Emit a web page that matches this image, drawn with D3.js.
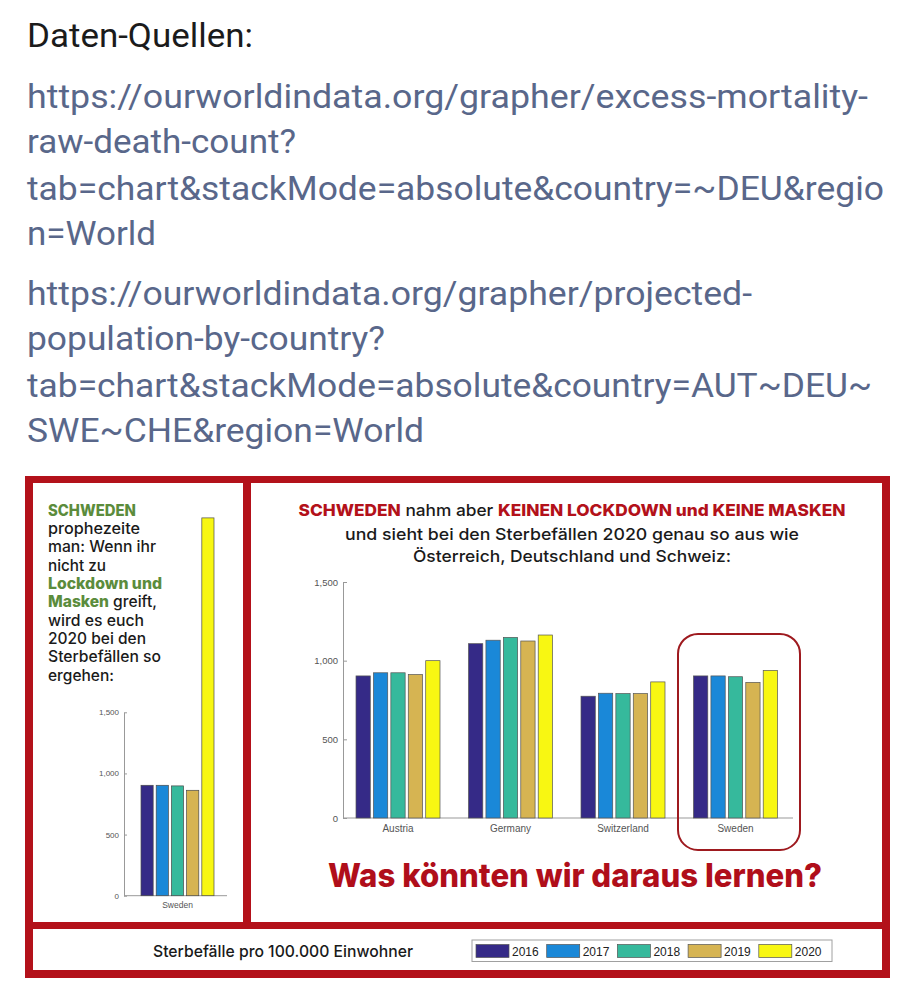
<!DOCTYPE html>
<html>
<head>
<meta charset="utf-8">
<script src="https://cdn.jsdelivr.net/npm/d3@7"></script>
<style>
  html, body { margin: 0; padding: 0; background: #fff; }
  svg { display: block; }
</style>
</head>
<body>
<svg id="chart" width="915" height="1000"></svg>
<script>
// ---------------- DATA ----------------
const countries = ["Austria", "Germany", "Switzerland", "Sweden"];
const years = ["2016", "2017", "2018", "2019", "2020"];
const austria = [903, 923, 923, 912, 1000];
const germany = [1108, 1130, 1148, 1125, 1163];
const switzerland = [774, 793, 791, 791, 865];
const sweden = [903, 903, 898, 862, 938];
const swedenProphecy = [903, 903, 898, 862, 3090];
const yTicks = [0, 500, 1000, 1500];
const yearColors = ["#352a87", "#1a88d8", "#36b99c", "#d6b452", "#f8f712"];

const sourceLines = [
  "https://ourworldindata.org/grapher/excess-mortality-",
  "raw-death-count?",
  "tab=chart&stackMode=absolute&country=~DEU&regio",
  "n=World",
  "https://ourworldindata.org/grapher/projected-",
  "population-by-country?",
  "tab=chart&stackMode=absolute&country=AUT~DEU~",
  "SWE~CHE&region=World"
];
const sourceWidths = [841, 269, 857, 129, 725, 358, 845, 397];
const sourceBaselines = [108, 153, 200, 245, 305, 350, 397, 442];

const seriesByCountry = [austria, germany, switzerland, sweden];
const mainData = countries.map((c, i) => ({country: c, values: years.map((y, j) => ({year: y, value: seriesByCountry[i][j]}))}));
const leftData = [{country: "Sweden", values: years.map((y, j) => ({year: y, value: swedenProphecy[j]}))}];

// ---------------- SETUP ----------------
const svg = d3.select("#chart");
const RED = "#b3111a";
const GREEN = "#5b8c3c";
const color = d3.scaleOrdinal().domain(years).range(yearColors);

// Top source text
svg.append("text")
  .attr("x", 27).attr("y", 47)
  .attr("font-family", "Roboto, sans-serif").attr("font-size", 34)
  .attr("fill", "#1b1b1b")
  .attr("textLength", 226).attr("lengthAdjust", "spacingAndGlyphs")
  .text("Daten-Quellen:");

svg.selectAll("text.src").data(sourceLines).join("text")
  .attr("class", "src")
  .attr("x", 27).attr("y", (d, i) => sourceBaselines[i])
  .attr("font-family", "Roboto, sans-serif").attr("font-size", 34)
  .attr("fill", "#59678a")
  .attr("textLength", (d, i) => sourceWidths[i]).attr("lengthAdjust", "spacingAndGlyphs")
  .text(d => d);

// Frame
svg.append("rect").attr("x", 25).attr("y", 476).attr("width", 865).attr("height", 502).attr("fill", RED);
svg.append("rect").attr("x", 33).attr("y", 483).attr("width", 210).attr("height", 439).attr("fill", "#fff");
svg.append("rect").attr("x", 251).attr("y", 483).attr("width", 631).attr("height", 439).attr("fill", "#fff");
svg.append("rect").attr("x", 33).attr("y", 929).attr("width", 849).attr("height", 41).attr("fill", "#fff");

// ---------------- LEFT PANEL TEXT ----------------
const leftLines = [
  [{t: "SCHWEDEN", g: true}],
  [{t: "prophezeite"}],
  [{t: "man: Wenn ihr"}],
  [{t: "nicht zu"}],
  [{t: "Lockdown und", g: true}],
  [{t: "Masken", g: true}, {t: " greift,"}],
  [{t: "wird es euch"}],
  [{t: "2020 bei den"}],
  [{t: "Sterbefällen so"}],
  [{t: "ergehen:"}]
];
const leftWidths = [88, 92, 108, 58, 114, 109, 96, 98, 113, 66];
leftLines.forEach((line, i) => {
  const t = svg.append("text")
    .attr("x", 48).attr("y", 515.5 + i * 18.35)
    .attr("font-family", "Inter, 'Open Sans', sans-serif").attr("font-size", 15.5)
    .attr("textLength", leftWidths[i]).attr("lengthAdjust", "spacingAndGlyphs");
  line.forEach(seg => {
    t.append("tspan")
      .attr("fill", seg.g ? GREEN : "#1a1a1a")
      .attr("font-weight", seg.g ? 800 : 500)
      .text(seg.t);
  });
});

// ---------------- LEFT CHART ----------------
const ly = d3.scaleLinear().domain([0, 1500]).range([895.7, 712.3]);
const lx = d3.scaleBand().domain(["Sweden"]).range([124, 227]).padding(0);
const lxi = d3.scaleBand().domain(years).range([17, 90]).paddingInner(0.2).paddingOuter(0);

const lAxis = svg.append("g").attr("transform", "translate(124,0)")
  .call(d3.axisLeft(ly).tickValues(yTicks).tickFormat(d3.format(",")).tickSizeInner(-3).tickSizeOuter(0).tickPadding(5));
lAxis.select(".domain").attr("stroke", "#999");
lAxis.selectAll(".tick line").attr("stroke", "#999");
lAxis.selectAll(".tick text").attr("fill", "#555").attr("font-size", 8).attr("font-family", "'Liberation Sans', Arial, sans-serif");
svg.append("line").attr("x1", 124).attr("x2", 227).attr("y1", ly(0)).attr("y2", ly(0)).attr("stroke", "#999");

const lg = svg.selectAll("g.lgroup").data(leftData).join("g")
  .attr("class", "lgroup").attr("transform", d => `translate(${lx(d.country)},0)`);
lg.selectAll("rect").data(d => d.values).join("rect")
  .attr("x", d => lxi(d.year)).attr("width", lxi.bandwidth())
  .attr("y", d => ly(d.value)).attr("height", d => ly(0) - ly(d.value))
  .attr("fill", d => color(d.year)).attr("stroke", "#4a4a4a").attr("stroke-width", 0.7);
lg.append("text")
  .attr("x", (lxi.range()[0] + lxi.range()[1]) / 2).attr("y", 908)
  .attr("text-anchor", "middle").attr("font-size", 8.5).attr("fill", "#555")
  .attr("font-family", "'Liberation Sans', Arial, sans-serif")
  .text(d => d.country);

// ---------------- RIGHT PANEL TITLE ----------------
const titleLines = [
  {segs: [{t: "SCHWEDEN", r: true}, {t: " nahm aber "}, {t: "KEINEN LOCKDOWN und KEINE MASKEN", r: true}], y: 516, w: 547},
  {segs: [{t: "und sieht bei den Sterbefällen 2020 genau so aus wie"}], y: 540, w: 454},
  {segs: [{t: "Österreich, Deutschland und Schweiz:"}], y: 562, w: 318}
];
titleLines.forEach(line => {
  const t = svg.append("text")
    .attr("x", 572).attr("y", line.y).attr("text-anchor", "middle")
    .attr("font-family", "Inter, 'Open Sans', sans-serif").attr("font-size", 16.5)
    .attr("textLength", line.w).attr("lengthAdjust", "spacingAndGlyphs");
  line.segs.forEach(seg => {
    t.append("tspan")
      .attr("fill", seg.r ? RED : "#1a1a1a")
      .attr("font-weight", seg.r ? 800 : 500)
      .text(seg.t);
  });
});

// ---------------- MAIN CHART ----------------
const y = d3.scaleLinear().domain([0, 1500]).range([818, 582]);
const x = d3.scaleBand().domain(countries).range([343, 793]).padding(0);
const xi = d3.scaleBand().domain(years).range([13, 97]).paddingInner(0.18).paddingOuter(0);

const mAxis = svg.append("g").attr("transform", "translate(343,0)")
  .call(d3.axisLeft(y).tickValues(yTicks).tickFormat(d3.format(",")).tickSizeInner(-4).tickSizeOuter(0).tickPadding(5));
mAxis.select(".domain").attr("stroke", "#999");
mAxis.selectAll(".tick line").attr("stroke", "#999");
mAxis.selectAll(".tick text").attr("fill", "#555").attr("font-size", 9.5).attr("font-family", "'Liberation Sans', Arial, sans-serif");
svg.append("line").attr("x1", 343).attr("x2", 793).attr("y1", y(0)).attr("y2", y(0)).attr("stroke", "#999");

const groups = svg.selectAll("g.group").data(mainData).join("g")
  .attr("class", "group").attr("transform", d => `translate(${x(d.country)},0)`);
groups.selectAll("rect").data(d => d.values).join("rect")
  .attr("x", d => xi(d.year)).attr("width", xi.bandwidth())
  .attr("y", d => y(d.value)).attr("height", d => y(0) - y(d.value))
  .attr("fill", d => color(d.year)).attr("stroke", "#555").attr("stroke-width", 0.7);
groups.append("text")
  .attr("x", (xi.range()[0] + xi.range()[1]) / 2).attr("y", 832)
  .attr("text-anchor", "middle").attr("font-size", 10).attr("fill", "#555")
  .attr("font-family", "'Liberation Sans', Arial, sans-serif")
  .text(d => d.country);

// Highlight around Sweden
svg.append("rect")
  .attr("x", x("Sweden") - 2.5).attr("y", y(1170))
  .attr("width", x.bandwidth() + 9.5).attr("height", y(0) + 32 - y(1170))
  .attr("rx", 20).attr("ry", 20)
  .attr("fill", "none").attr("stroke", "#9e1a1f").attr("stroke-width", 2);

// Big question
svg.append("text")
  .attr("x", 575).attr("y", 887).attr("text-anchor", "middle")
  .attr("font-family", "Inter, 'Open Sans', sans-serif").attr("font-size", 32).attr("font-weight", 800)
  .attr("fill", "#b00e1a")
  .attr("textLength", 494).attr("lengthAdjust", "spacingAndGlyphs")
  .text("Was könnten wir daraus lernen?");

// ---------------- LEGEND STRIP ----------------
svg.append("text")
  .attr("x", 153).attr("y", 956.5)
  .attr("font-family", "Inter, 'Open Sans', sans-serif").attr("font-size", 16.5).attr("font-weight", 500)
  .attr("fill", "#1a1a1a")
  .attr("textLength", 260).attr("lengthAdjust", "spacingAndGlyphs")
  .text("Sterbefälle pro 100.000 Einwohner");

svg.append("rect").attr("x", 472).attr("y", 940).attr("width", 360).attr("height", 21.5)
  .attr("fill", "#fff").attr("stroke", "#a0a0a0").attr("stroke-width", 1);
const leg = svg.selectAll("g.leg").data(years).join("g")
  .attr("class", "leg").attr("transform", (d, i) => `translate(${476 + i * 70.7},944.5)`);
leg.append("rect").attr("width", 33).attr("height", 13)
  .attr("fill", d => color(d)).attr("stroke", "#555").attr("stroke-width", 0.7);
leg.append("text").attr("x", 36).attr("y", 11)
  .attr("font-family", "'Liberation Sans', Arial, sans-serif").attr("font-size", 12)
  .attr("fill", "#222").text(d => d);
</script>
</body>
</html>
